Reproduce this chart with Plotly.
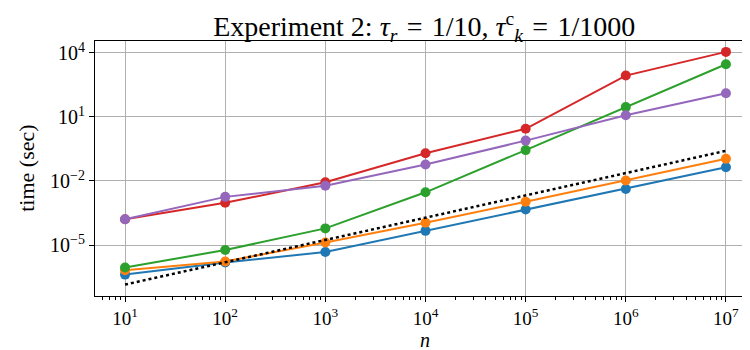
import plotly.graph_objects as go

# problem sizes
n = [1e1, 1e2, 1e3, 1e4, 1e5, 1e6, 1e7]

# timings in seconds
t_blue = [4.1e-7, 1.5e-6, 4.7e-6, 4.6e-5, 4.6e-4, 4.2e-3, 4.4e-2]
t_orange = [6.5e-7, 1.7e-6, 1.3e-5, 1.1e-4, 1.07e-3, 1.05e-2, 1.1e-1]
t_green = [8.9e-7, 5.8e-6, 6.0e-5, 2.95e-3, 2.8e-1, 2.9e1, 2.95e3]
t_red = [1.6e-4, 9.5e-4, 8.7e-3, 2.0e-1, 2.8, 8.7e2, 1.12e4]
t_purple = [1.6e-4, 1.8e-3, 6.0e-3, 5.9e-2, 7.8e-1, 1.2e1, 1.3e2]
t_ref = [1.4e-7, 1.7e-6, 1.6e-5, 1.5e-4, 2.0e-3, 2.1e-2, 2.6e-1]

series = [
    (t_blue, "#1f77b4"),
    (t_orange, "#ff7f0e"),
    (t_green, "#2ca02c"),
    (t_red, "#d62728"),
    (t_purple, "#9467bd"),
]

x_ticks = [1e1, 1e2, 1e3, 1e4, 1e5, 1e6, 1e7]
x_labels = ["10<sup>1</sup>", "10<sup>2</sup>", "10<sup>3</sup>", "10<sup>4</sup>",
            "10<sup>5</sup>", "10<sup>6</sup>", "10<sup>7</sup>"]
y_ticks = [1e-5, 1e-2, 1e1, 1e4]
y_labels = ["10<sup>\u22125</sup>", "10<sup>\u22122</sup>", "10<sup>1</sup>", "10<sup>4</sup>"]

minor_x = [m * 10 ** e for e in range(0, 8) for m in range(2, 10)]

fig = go.Figure()
for vals, col in series:
    fig.add_trace(go.Scatter(x=n, y=vals, mode="lines+markers",
                             line=dict(color=col, width=2),
                             marker=dict(color=col, size=10)))
fig.add_trace(go.Scatter(x=[n[0], n[-1]], y=[t_ref[0], t_ref[-1]], mode="lines",
                         line=dict(color="black", width=2.5, dash="dot")))

font = "Liberation Serif"
sp = "\u2004"
fig.update_layout(
    width=750, height=350,
    margin=dict(l=87, r=2, t=33, b=62),
    paper_bgcolor="white", plot_bgcolor="white",
    showlegend=False,
    font=dict(family=font, size=20, color="black"),
    title=dict(text=f"Experiment 2: <i>\u03c4<sub>r</sub></i>{sp}={sp}1/10, <i>\u03c4</i><sup>c</sup><sub><i>k</i></sub>{sp}={sp}1/1000",
               x=0.555, xanchor="center", y=0.975, yanchor="top",
               font=dict(family=font, size=28)),
    annotations=[
        dict(text="<i>n</i>", xref="paper", yref="paper", x=0.499, y=-0.172,
             xanchor="center", yanchor="middle", showarrow=False, font=dict(size=20)),
        dict(text="time (sec)", xref="paper", yref="paper", x=-0.104, y=0.5,
             xanchor="center", yanchor="middle", textangle=-90, showarrow=False,
             font=dict(size=22)),
    ],
)
fig.update_xaxes(
    type="log", range=[0.70, 7.30], automargin=False,
    tickvals=x_ticks, ticktext=x_labels, tickfont=dict(size=19),
    showgrid=True, gridcolor="#b0b0b0", gridwidth=1,
    showline=True, linecolor="black", linewidth=1, mirror=True,
    ticks="outside", ticklen=5, tickcolor="black",
    minor=dict(tickvals=minor_x, ticks="outside", ticklen=3, tickcolor="black", showgrid=False),
    zeroline=False,
)
fig.update_yaxes(
    type="log", range=[-7.39, 4.56], automargin=False,
    tickvals=y_ticks, ticktext=y_labels,
    showgrid=True, gridcolor="#b0b0b0", gridwidth=1,
    showline=True, linecolor="black", linewidth=1, mirror=True,
    ticks="outside", ticklen=5, tickcolor="black",
    zeroline=False,
)

fig.write_html("out.html")
